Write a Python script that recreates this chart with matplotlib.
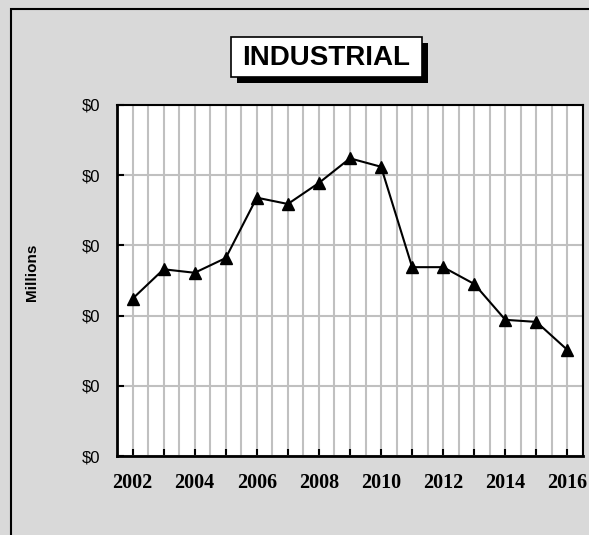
import matplotlib
matplotlib.use('Agg')
import matplotlib.pyplot as plt
from matplotlib.patches import Rectangle
from matplotlib.ticker import MultipleLocator, FuncFormatter

# data (values in millions, all round to $0)
years = list(range(2002, 2017))
values = [0.224, 0.266, 0.261, 0.282, 0.368, 0.359, 0.389, 0.424,
          0.412, 0.269, 0.269, 0.245, 0.194, 0.191, 0.151]
y_ticks = [0.0, 0.1, 0.2, 0.3, 0.4, 0.5]
title = 'INDUSTRIAL'
ylabel = 'Millions'

W, H = 589, 535
BG = '#d9d9d9'
GRID = '#c0c0c0'

plt.rcParams['font.family'] = ['Liberation Sans', 'DejaVu Sans']


def frac(x, y, w, h):
    # pixel box (top-left origin) -> figure fraction rect
    return (x / W, 1 - (y + h) / H, w / W, h / H)


fig = plt.figure(figsize=(W / 100, H / 100), dpi=100, facecolor=BG)

# outer chart frame (only left and top edges are inside the picture)
fx, fy, fw, fh = frac(11, 9, 700, 700)
fig.patches.append(Rectangle((fx, fy), fw, fh, transform=fig.transFigure,
                             fill=False, ec='black', lw=1.5, clip_on=False))

ax = fig.add_axes(frac(117, 105, 466, 351))
ax.set_facecolor('white')
ax.plot(years, values, color='black', lw=1.5, marker='^', ms=9,
        mfc='black', mec='black', zorder=3, clip_on=False)

ax.set_xlim(2001.5, 2016.5)
ax.set_ylim(0, 0.5)
ax.set_xticks(years)
ax.set_xticklabels([str(y) if (y - 2002) % 2 == 0 else '' for y in years],
                   fontfamily='Liberation Serif', fontweight='bold',
                   fontsize=14.5)
ax.xaxis.set_minor_locator(MultipleLocator(0.5))
ax.set_yticks(y_ticks)
ax.yaxis.set_major_formatter(FuncFormatter(lambda v, p: '${:,.0f}'.format(v)))

ax.grid(True, which='both', axis='x', color=GRID, lw=1.5, zorder=0)
ax.grid(True, which='major', axis='y', color=GRID, lw=1.5, zorder=0)
ax.set_axisbelow(True)

ax.tick_params(axis='both', which='major', direction='in', length=5,
               width=1.5, color='black')
ax.tick_params(axis='x', which='minor', length=0)
ax.tick_params(axis='x', pad=12)
ax.tick_params(axis='y', pad=12, labelsize=12,
               labelfontfamily='Liberation Sans')

for side in ['top', 'right']:
    ax.spines[side].set_linewidth(1.5)
for side in ['left', 'bottom']:
    ax.spines[side].set_linewidth(2)

fig.text(32 / W, 1 - 272 / H, ylabel, rotation=90, ha='center', va='center',
         family='Liberation Sans', fontweight='bold', fontsize=11)

# title box with drop shadow
sx, sy, sw, sh = frac(237, 43, 191, 40)
fig.patches.append(Rectangle((sx, sy), sw, sh, transform=fig.transFigure,
                             fc='black', ec='black', lw=0))
bx, by, bw, bh = frac(231, 37, 191, 40)
fig.patches.append(Rectangle((bx, by), bw, bh, transform=fig.transFigure,
                             fc='white', ec='black', lw=1.2))
fig.text(326 / W, 1 - 58 / H, title, ha='center', va='center',
         family='Liberation Sans', fontweight='bold', fontsize=20)

fig.savefig('out.png', dpi=100, facecolor=BG)
